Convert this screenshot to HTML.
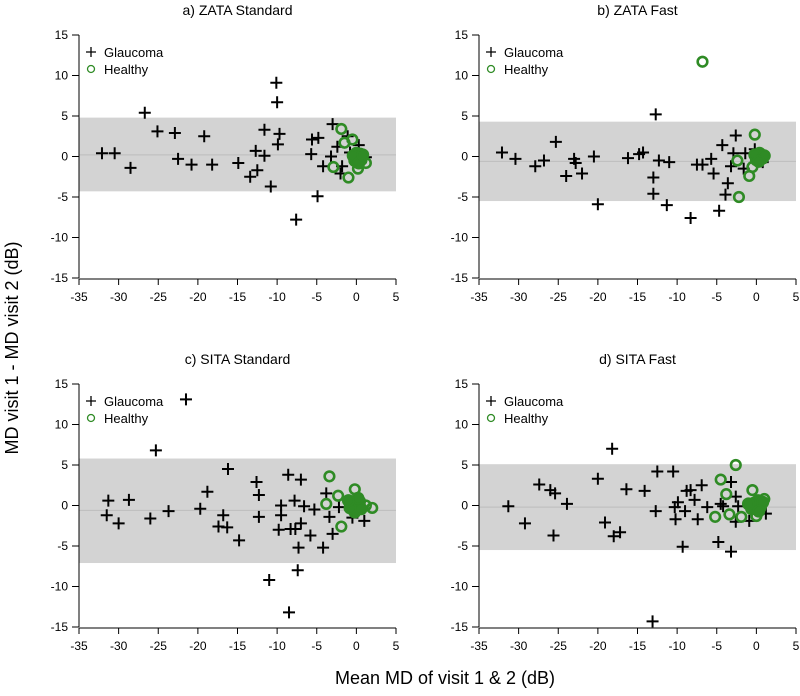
<!DOCTYPE html>
<html><head><meta charset="utf-8">
<style>
html,body{margin:0;padding:0;background:#fff;}
svg{display:block;font-family:"Liberation Sans",Arial,sans-serif;}
</style></head>
<body>
<svg id="chart" width="800" height="696" viewBox="0 0 800 696">
<text x="18" y="348" font-size="18" text-anchor="middle" transform="rotate(-90 18 348)">MD visit 1 - MD visit 2  (dB)</text>
<text x="445" y="684" font-size="18" text-anchor="middle">Mean MD of visit 1 &amp; 2 (dB)</text>
</svg>
<script>
const xTicks = [-35,-30,-25,-20,-15,-10,-5,0,5];
const yTicks = [-15,-10,-5,0,5,10,15];
const titles = ["a) ZATA Standard","b) ZATA Fast","c) SITA Standard","d) SITA Fast"];
const bandHi = [4.8, 4.3, 5.8, 5.1];
const bandLo = [-4.3, -5.5, -7.1, -5.5];
const bandMean = [0.2, -0.6, -0.6, -0.2];

const glaucomaA = [[-32.1,0.4],[-30.5,0.4],[-28.5,-1.4],[-26.7,5.4],[-25.1,3.1],[-22.9,2.9],[-22.5,-0.3],[-20.8,-1.0],[-19.2,2.5],[-18.2,-1.0],[-14.9,-0.8],[-13.4,-2.5],[-12.7,0.7],[-12.5,-1.7],[-11.6,3.3],[-11.6,0.1],[-10.8,-3.7],[-10.1,9.1],[-10.0,6.7],[-9.7,2.8],[-9.9,1.5],[-7.6,-7.8],[-5.7,0.3],[-5.6,2.1],[-4.8,2.3],[-4.9,-4.9],[-4.2,-1.2],[-3.2,0.0],[-3.0,4.0],[-2.4,1.2],[-2.0,-2.1],[-1.8,-1.2],[-1.1,2.5],[-0.8,0.5],[0.3,1.4],[1.2,-0.1]];
const healthyA = [[-1.9,3.4],[-2.9,-1.3],[-1.0,-2.6],[-0.5,2.1],[-1.5,1.7],[0.2,-1.5],[1.2,-0.8],[0.4,-0.1]];
const clusterA = [[0.2,0],[0.5,0.3],[-0.2,-0.5],[0.6,-0.4],[0.0,0.4],[-0.4,0.1],[0.3,-0.8],[0.8,0.2]];

const glaucomaB = [[-32.1,0.5],[-30.4,-0.3],[-27.9,-1.2],[-26.8,-0.5],[-25.3,1.8],[-24.0,-2.4],[-23.0,-0.3],[-22.8,-0.8],[-22.0,-2.1],[-20.5,0.0],[-20.0,-5.9],[-16.2,-0.2],[-14.8,0.3],[-14.3,0.5],[-13.0,-2.6],[-13.0,-4.6],[-12.7,5.2],[-12.3,-0.5],[-11.0,-0.7],[-11.3,-6.0],[-8.3,-7.6],[-7.5,-1.0],[-6.8,-1.0],[-5.7,-0.3],[-5.4,-2.1],[-4.7,-6.7],[-4.3,1.4],[-3.6,-3.3],[-3.9,-4.7],[-3.2,-1.2],[-2.9,0.4],[-2.6,2.6],[-1.6,-1.5],[-1.4,0.4],[-0.2,0.9],[0.8,-0.7]];
const healthyB = [[-6.8,11.7],[-0.2,2.7],[-2.2,-5.0],[-0.9,-2.4],[-2.4,-0.5],[-0.5,-1.3]];
const clusterB = [[0.2,0],[0.6,0.2],[0.0,-0.4],[0.8,-0.2],[0.4,0.4],[-0.2,0.2],[1.0,0.1],[0.3,-0.6]];

const glaucomaC = [[-31.3,0.6],[-31.5,-1.2],[-30.0,-2.2],[-28.7,0.7],[-26.0,-1.6],[-25.3,6.8],[-23.7,-0.7],[-21.5,13.1],[-19.7,-0.4],[-18.8,1.7],[-16.8,-1.2],[-17.4,-2.6],[-16.3,-2.7],[-16.2,4.5],[-14.8,-4.3],[-12.6,2.9],[-12.3,1.3],[-12.3,-1.4],[-11.0,-9.2],[-9.5,0.0],[-9.5,-1.2],[-9.8,-3.0],[-8.6,3.8],[-8.5,-13.2],[-7.8,0.6],[-8.3,-2.9],[-7.7,-2.9],[-7.0,-2.2],[-7.0,3.2],[-7.3,-5.2],[-7.4,-8.0],[-6.6,-0.1],[-5.8,-3.7],[-5.3,-0.5],[-4.2,-5.2],[-3.8,1.5],[-3.4,-1.4],[-3.0,-3.5],[-2.2,-0.2],[-0.5,-1.5],[1.0,-1.9]];
const healthyC = [[-3.4,3.6],[-3.8,0.2],[-2.3,1.2],[-1.9,-2.6],[-0.2,2.0],[2.0,-0.3],[1.2,0.0]];
const clusterC = [[-0.5,0.3],[0.0,-0.2],[0.4,0.5],[-0.2,-0.8],[0.6,-0.4],[-0.8,-0.3],[0.2,0.9],[-1.0,0.6]];

const glaucomaD = [[-31.3,-0.1],[-29.2,-2.2],[-27.4,2.6],[-26.0,1.9],[-25.4,1.5],[-25.6,-3.7],[-23.9,0.2],[-20.0,3.3],[-19.1,-2.1],[-18.2,7.0],[-18.0,-3.8],[-17.2,-3.3],[-16.4,2.0],[-14.1,1.8],[-13.1,-14.3],[-12.7,-0.7],[-12.5,4.2],[-10.5,4.2],[-10.2,-1.7],[-10.3,-0.2],[-9.9,0.4],[-9.3,-5.1],[-9.0,-0.7],[-8.8,1.8],[-8.3,1.9],[-7.8,0.7],[-7.4,-1.7],[-6.9,2.5],[-6.2,-0.2],[-4.8,-4.5],[-4.5,0.2],[-4.2,-0.1],[-3.2,2.9],[-3.2,-5.7],[-2.6,1.1],[-2.6,-2.0],[-2.3,-0.1],[-0.9,-1.9],[1.2,-1.0]];
const healthyD = [[-2.6,5.0],[-4.5,3.2],[-3.8,1.4],[-5.2,-1.4],[-3.4,-1.1],[-1.9,-1.4],[-0.5,1.9],[0.0,-1.3],[1.0,0.8]];
const clusterD = [[-0.3,0.3],[0.2,0.6],[0.5,-0.2],[-0.6,-0.4],[0.0,0.0],[0.8,0.4],[-1.0,0.2],[0.3,-0.7]];

const glaucoma = [glaucomaA, glaucomaB, glaucomaC, glaucomaD];
const healthy = [healthyA, healthyB, healthyC, healthyD];
const cluster = [clusterA, clusterB, clusterC, clusterD];

const NS = "http://www.w3.org/2000/svg";
const svg = document.getElementById("chart");
const boxes = [[79,396,35,278],[479,796,35,278],[79,396,384,627],[479,796,384,627]];
const GREEN = "#2f8b25";
function mk(tag, attrs, parent){
  const e = document.createElementNS(NS, tag);
  for (const k in attrs) e.setAttribute(k, attrs[k]);
  (parent||svg).appendChild(e);
  return e;
}
for (let p=0;p<4;p++){
  const [L,R,T,B] = boxes[p];
  const sx = v => L + (v + 35) / 40 * (R - L);
  const sy = v => B - (v + 15) / 30 * (B - T);
  const g = mk("g", {});
  
  
  const t = mk("text", {x:(L+R)/2, y:T-20, "font-size":14, "text-anchor":"middle"}, g);
  t.textContent = titles[p];
  
  
  const band = mk("rect", {x:sx(-35), y:sy(bandHi[p]), width:sx(5)-sx(-35), height:sy(bandLo[p])-sy(bandHi[p]), fill:"#d3d3d3"}, g);
  
  
  const ml = mk("line", {x1:sx(-35), x2:sx(5), y1:sy(bandMean[p]), y2:sy(bandMean[p]), stroke:"#bdbdbd", "stroke-width":1}, g);
  
  
  // axes
  const ya = mk("g", {}, g);
  
  
  mk("line", {x1:L, x2:L, y1:sy(15), y2:sy(-15), stroke:"#000"}, ya);
  yTicks.forEach(v=>{
    mk("line", {x1:L-7, x2:L, y1:sy(v), y2:sy(v), stroke:"#000"}, ya);
    const tl = mk("text", {x:L-11, y:sy(v)+4, "font-size":12, "text-anchor":"end"}, ya);
    tl.textContent = v;
    
    
  });
  const xa = mk("g", {}, g);
  
  
  mk("line", {x1:sx(-35), x2:sx(5), y1:B+1, y2:B+1, stroke:"#000"}, xa);
  xTicks.forEach(v=>{
    mk("line", {x1:sx(v), x2:sx(v), y1:B+1, y2:B+7, stroke:"#000"}, xa);
    const tl = mk("text", {x:sx(v), y:B+23, "font-size":12, "text-anchor":"middle"}, xa);
    tl.textContent = v;
    
    
  });
  // points
  glaucoma[p].forEach(d=>{
    const x=sx(d[0]), y=sy(d[1]);
    const pt = mk("path", {d:`M${x-6} ${y}H${x+6}M${x} ${y-6}V${y+6}`, stroke:"#000", "stroke-width":2}, g);
    
    
  });
  healthy[p].forEach(d=>{
    const c = mk("circle", {cx:sx(d[0]), cy:sy(d[1]), r:4.8, fill:"none", stroke:GREEN, "stroke-width":2.6}, g);
    
    
  });
  cluster[p].forEach(d=>{
    const c = mk("circle", {cx:sx(d[0]), cy:sy(d[1]), r:5.5, fill:GREEN, stroke:GREEN, "stroke-width":2}, g);
    
    
  });
  // legend
  const lg = mk("g", {}, g);
  
  
  const ly = T + 17;
  mk("path", {d:`M${L+7} ${ly}H${L+17}M${L+12} ${ly-5}V${ly+5}`, stroke:"#000", "stroke-width":1.3}, lg);
  const l1 = mk("text", {x:L+25, y:ly+5, "font-size":13}, lg);
  l1.textContent = "Glaucoma";
  
  
  mk("circle", {cx:L+12, cy:ly+17, r:3.5, fill:"none", stroke:GREEN, "stroke-width":1.3}, lg);
  const l2 = mk("text", {x:L+25, y:ly+22, "font-size":13}, lg);
  l2.textContent = "Healthy";
  
  
}
</script>
</body></html>
